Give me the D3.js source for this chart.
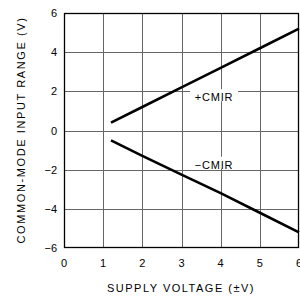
<!DOCTYPE html>
<html>
<head>
<meta charset="utf-8">
<script src="https://cdn.jsdelivr.net/npm/d3@7"></script>
<style>
  body { margin: 0; background: #fff; }
  text { font-family: "Liberation Sans", Arial, sans-serif; fill: #000; }
</style>
</head>
<body>
<div class="js-chart"></div>
<script>
'use strict';

//chart values
var xTicks = [0, 1, 2, 3, 4, 5, 6];
var yTicks = [-6, -4, -2, 0, 2, 4, 6];
var plusCmirV = [1.2, 2, 3, 4, 5, 6];
var plusCmir = [0.4, 1.2, 2.2, 3.2, 4.2, 5.2];
var minusCmirV = [1.2, 2, 3, 4, 5, 6];
var minusCmir = [-0.5, -1.3, -2.25, -3.2, -4.2, -5.2];
var labels = [
    { text: '+CMIR', x: 3.83, y: 1.7 },
    { text: '\u2212CMIR', x: 3.83, y: -1.75 }
];

var W = 300, H = 299;
var m = { l: 64, r: 1, t: 13, b: 51 };

var svg = d3.select('.js-chart').append('svg')
    .attr('width', W)
    .attr('height', H);

var x = d3.scaleLinear().domain([0, 6]).range([m.l, W - m.r]);
var y = d3.scaleLinear().domain([-6, 6]).range([H - m.b, m.t]);

//grid lines
var grid = svg.append('g').attr('stroke', '#666').attr('stroke-width', 1);
grid.selectAll('.vx').data(xTicks.slice(1, -1)).enter().append('line')
    .attr('x1', function (d) { return Math.round(x(d)) + 0.5; })
    .attr('x2', function (d) { return Math.round(x(d)) + 0.5; })
    .attr('y1', y(6)).attr('y2', y(-6));
grid.selectAll('.hy').data(yTicks.slice(1, -1)).enter().append('line')
    .attr('y1', function (d) { return Math.round(y(d)) + 0.5; })
    .attr('y2', function (d) { return Math.round(y(d)) + 0.5; })
    .attr('x1', x(0)).attr('x2', x(6));

//frame
svg.append('rect')
    .attr('x', x(0) + 0.5).attr('y', y(6) + 0.5)
    .attr('width', x(6) - x(0) - 1).attr('height', y(-6) - y(6) - 1)
    .attr('fill', 'none').attr('stroke', '#000').attr('stroke-width', 1.3);

//curve labels with white boxes that break the grid
var lab = svg.selectAll('.lab').data(labels).enter().append('g');
lab.append('rect')
    .attr('x', function (d) { return x(d.x) - 24; })
    .attr('y', function (d) { return y(d.y) - 8; })
    .attr('width', 48).attr('height', 12)
    .attr('fill', '#fff');
lab.append('text')
    .attr('x', function (d) { return x(d.x); })
    .attr('y', function (d) { return y(d.y) + 4; })
    .attr('text-anchor', 'middle')
    .style('font-size', '11px')
    .style('letter-spacing', '0.8px')
    .text(function (d) { return d.text; });

//curves
var line = d3.line()
    .x(function (d) { return x(d[0]); })
    .y(function (d) { return y(d[1]); });
svg.append('path')
    .attr('d', line(d3.zip(plusCmirV, plusCmir)))
    .attr('fill', 'none').attr('stroke', '#000').attr('stroke-width', 2.6);
svg.append('path')
    .attr('d', line(d3.zip(minusCmirV, minusCmir)))
    .attr('fill', 'none').attr('stroke', '#000').attr('stroke-width', 2.6);

//tick labels
svg.selectAll('.xt').data(xTicks).enter().append('text')
    .attr('x', function (d) { return x(d); })
    .attr('y', 267)
    .attr('text-anchor', 'middle')
    .style('font-size', '11px')
    .text(function (d) { return d; });
svg.selectAll('.yt').data(yTicks).enter().append('text')
    .attr('x', 57)
    .attr('y', function (d) { return y(d) + 4; })
    .attr('text-anchor', 'end')
    .style('font-size', '11px')
    .text(function (d) { return d < 0 ? '\u2212' + (-d) : d; });

//axis titles
svg.append('text')
    .attr('x', 181).attr('y', 292)
    .attr('text-anchor', 'middle')
    .style('font-size', '11px')
    .style('letter-spacing', '1.5px')
    .text('SUPPLY VOLTAGE (\u00b1V)');
svg.append('text')
    .attr('transform', 'translate(25,130) rotate(-90)')
    .attr('text-anchor', 'middle')
    .style('font-size', '11px')
    .style('letter-spacing', '1.6px')
    .text('COMMON-MODE INPUT RANGE (V)');
</script>
</body>
</html>
